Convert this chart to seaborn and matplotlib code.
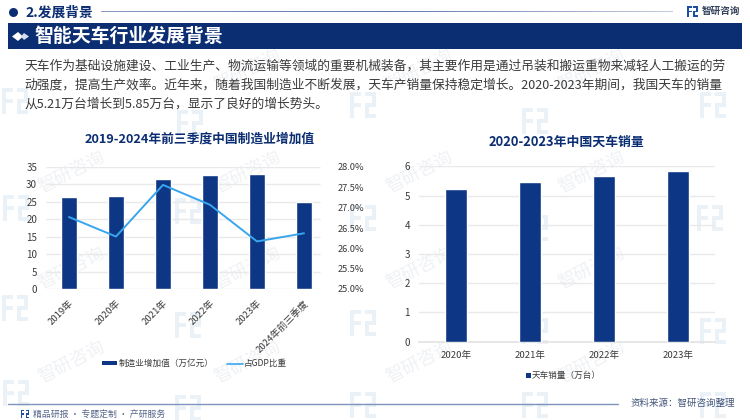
import matplotlib
matplotlib.use('Agg')
import matplotlib.pyplot as plt
from matplotlib.patches import Rectangle, Polygon
from matplotlib.lines import Line2D
from matplotlib.colors import LinearSegmentedColormap
import numpy as np
import pandas as pd
import seaborn as sns

years_left = ['2019年', '2020年', '2021年', '2022年', '2023年', '2024年前三季度']
added_value = [26.4, 26.7, 31.6, 32.7, 33.1, 25.0]
gdp_share = [26.77, 26.29, 27.56, 27.07, 26.17, 26.37]
years_right = ['2020年', '2021年', '2022年', '2023年']
crane_sales = [5.21, 5.45, 5.66, 5.85]
body_lines = [
    '天车作为基础设施建设、工业生产、物流运输等领域的重要机械装备，其主要作用是通过吊装和搬运重物来减轻人工搬运的劳',
    '动强度，提高生产效率。近年来，随着我国制造业不断发展，天车产销量保持稳定增长。2020-2023年期间，我国天车的销量',
    '从5.21万台增长到5.85万台，显示了良好的增长势头。',
]

NAVY = '#0B2D72'
BAR = '#0D3784'
LINE = '#38A6EE'
TXT = '#3A3A3A'
W, H = 750, 420

sns.set_theme(style='white')
plt.rcParams['font.family'] = ['Noto Sans CJK SC', 'DejaVu Sans']
plt.rcParams['axes.unicode_minus'] = False

fig = plt.figure(figsize=(7.5, 4.2), dpi=100)


def px_axes(x0, y0, x1, y1):
    # pixel box, y counted from the top
    return fig.add_axes([x0 / W, 1 - y1 / H, (x1 - x0) / W, (y1 - y0) / H])


def ftext(x, y, s, **kw):
    return fig.text(x / W, 1 - y / H, s, **kw)


def full_axes(zorder):
    a = fig.add_axes([0, 0, 1, 1], zorder=zorder)
    a.set_xlim(0, W)
    a.set_ylim(H, 0)
    a.axis('off')
    a.patch.set_alpha(0)
    return a


def logo(a, x, y, s, color):
    # small square mark of the brand
    for dx, dy, w, h in [(0, 0, .42, .16), (0, 0, .16, 1), (0, .42, .42, .16),
                         (.58, 0, .42, .16), (.84, 0, .16, .58), (.58, .42, .42, .16),
                         (.58, .42, .16, .58), (.58, .84, .42, .16)]:
        a.add_patch(Rectangle((x + dx * s, y + dy * s), w * s, h * s, color=color, lw=0))


# watermark sits under everything
bg = full_axes(-1)
for wx, wy in [(2, 88), (177, 110), (350, 92), (522, 108), (700, 92),
               (3, 195), (175, 198), (350, 205), (522, 215), (697, 205),
               (2, 295), (175, 312), (350, 310), (522, 318), (700, 318),
               (3, 380), (175, 395), (350, 392), (522, 392), (700, 392)]:
    logo(bg, wx, wy, 26, '#EAF2F8')
for tx, ty in [(72, 172), (248, 172), (420, 172), (592, 172),
               (72, 362), (248, 362), (420, 362), (592, 362),
               (248, 70), (420, 70), (592, 70), (72, 268), (248, 268), (420, 268), (592, 268)]:
    bg.text(tx, ty, '智研咨询', fontsize=13, color='#EFF1F4', rotation=27, ha='center', va='center')

# header
head = full_axes(1)
head.scatter([13], [12], s=42, color=NAVY, lw=0)
ftext(25, 12.5, '2.发展背景', fontsize=9.9, fontweight='bold', color=NAVY, va='center')
grad = LinearSegmentedColormap.from_list('rule', ['#8A9CC4', '#5F78AE', '#C4CCDF'])
head.imshow(np.linspace(0, 1, 256)[None, :], cmap=grad, aspect='auto', extent=(101, 673, 12, 11))
head.set_xlim(0, W)
head.set_ylim(H, 0)
logo(head, 687, 6, 11, '#1D4FA0')
ftext(702, 11, '智研咨询', fontsize=6.9, fontweight='bold', color='#33415C', va='center')
head.add_patch(Rectangle((8, 23), 734, 26, color=NAVY, lw=0))
head.add_patch(Polygon([(12, 36.5), (18, 32), (23, 36.5), (18, 41)], color='white', lw=0))
head.add_patch(Polygon([(21, 36.5), (24, 33), (29, 36.5), (24, 40)], color='#D5DCEA', lw=0))
ftext(34, 36, '智能天车行业发展背景', fontsize=13.6, fontweight='bold', color='white', va='center')
for i, line in enumerate(body_lines):
    ftext(24, 66.5 + i * 18.8, line, fontsize=9.18, color=TXT, va='center')

# left chart
ax = px_axes(45.5, 167, 327.5, 289)
ax.patch.set_alpha(0)
left_df = pd.DataFrame({'year': years_left, 'value': added_value})
sns.barplot(data=left_df, x='year', y='value', color=BAR, saturation=1, width=0.32, ax=ax, zorder=3)
ax.set_ylim(0, 35)
ax.set_yticks(range(0, 36, 5))
ax.set_xlabel('')
ax.set_ylabel('')
ax.hlines(range(0, 36, 5), -0.5, 5.34, color='#E9E9E9', lw=1, zorder=1)
ax.tick_params(axis='y', length=0, labelsize=7, labelcolor=TXT, pad=6)
ax.tick_params(axis='x', length=0, labelsize=6.9, labelcolor=TXT, pad=7)
ax.set_xticks(range(len(years_left)))
ax.set_xticklabels(years_left, rotation=45, ha='right', rotation_mode='anchor')
sns.despine(ax=ax, left=True, right=True, top=True, bottom=True)

ax2 = ax.twinx()
ax2.patch.set_alpha(0)
sns.lineplot(x=range(len(gdp_share)), y=gdp_share, color=LINE, lw=1.4, ax=ax2, zorder=5)
ax2.set_ylim(25, 28)
ax2.set_xlim(-0.5, 5.5)
ax2.set_xlabel('')
ax2.set_yticks(np.arange(25, 28.01, 0.5))
ax2.set_yticklabels([f'{v:.1f}%' for v in np.arange(25, 28.01, 0.5)])
ax2.tick_params(axis='y', length=0, labelsize=6.7, labelcolor=TXT, pad=7)
ax2.grid(False)
sns.despine(ax=ax2, left=True, right=True, top=True, bottom=True)

ftext(200, 139.5, '2019-2024年前三季度中国制造业增加值', fontsize=9.2, fontweight='bold', color=NAVY,
      ha='center', va='center')
head.add_patch(Rectangle((102, 361), 15, 4, color=BAR, lw=0))
ftext(119, 363.5, '制造业增加值（万亿元）', fontsize=6.2, color=TXT, va='center')
head.add_line(Line2D([227, 243], [363.5, 363.5], color=LINE, lw=1.2))
ftext(244, 363.5, '占GDP比重', fontsize=6.2, color=TXT, va='center')

# right chart
ax3 = px_axes(419, 166.3, 715, 341.7)
ax3.patch.set_alpha(0)
right_df = pd.DataFrame({'year': years_right, 'sales': crane_sales})
sns.barplot(data=right_df, x='year', y='sales', color=BAR, saturation=1, width=0.31, ax=ax3, zorder=3)
ax3.set_ylim(0, 6)
ax3.set_yticks(range(7))
ax3.set_xlabel('')
ax3.set_ylabel('')
ax3.grid(axis='y', color='#E9E9E9', lw=1, zorder=0)
ax3.tick_params(axis='y', length=0, labelsize=7, labelcolor=TXT, pad=6.5)
ax3.tick_params(axis='x', length=0, labelsize=6.9, labelcolor=TXT, pad=6.5)
sns.despine(ax=ax3, left=True, right=True, top=True)
ax3.spines['bottom'].set_color('#E4E4E4')

ftext(566, 141.5, '2020-2023年中国天车销量', fontsize=9.3, fontweight='bold', color=NAVY,
      ha='center', va='center')
head.add_patch(Rectangle((526, 373), 4.5, 4.5, color=BAR, lw=0))
ftext(532, 375.5, '天车销量（万台）', fontsize=6.2, color=TXT, va='center')

# footer
head.plot([8, 618], [403.5, 403.5], color='#7F93BD', lw=1)
logo(head, 21, 410, 8, '#1D4FA0')
ftext(33, 414, '精品研报 · 专题定制 · 产研服务', fontsize=6.4, color='#55658A', va='center')
ftext(631, 403, '资料来源：智研咨询整理', fontsize=6.85, color='#44557A', va='center')

fig.savefig('out.png', dpi=100)
